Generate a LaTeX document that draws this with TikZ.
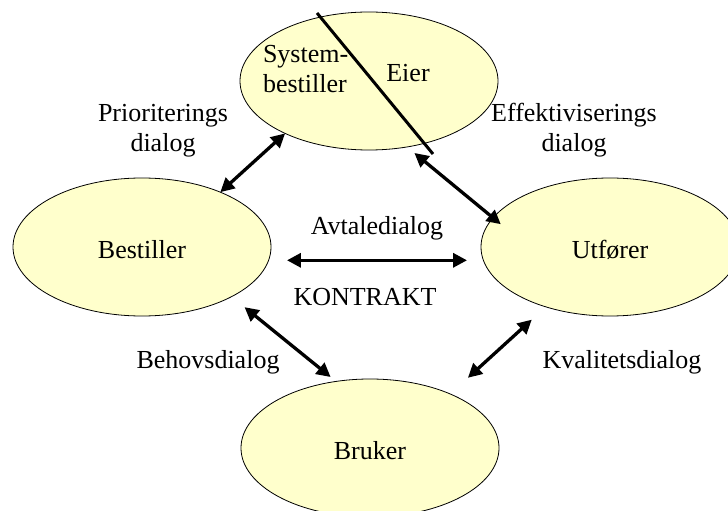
\documentclass[tikz,border=0pt]{standalone}
\usepackage{fontspec}
\setmainfont{Liberation Serif}
\usetikzlibrary{shapes.geometric,arrows.meta}
\definecolor{paleyellow}{HTML}{FFFFCC}
\begin{document}
\begin{tikzpicture}[x=1bp,y=-1bp,
  every node/.append style={font=\fontsize{26bp}{30bp}\selectfont},
  party/.style={ellipse, draw=black, line width=0.8bp, fill=paleyellow,
    minimum width=258bp, minimum height=138bp, inner sep=0pt, outer sep=0pt,
    text height=23bp, text depth=0bp},
  lbl/.style={inner sep=0pt, outer sep=0pt, anchor=base},
  dlg/.style={{Triangle[length=14bp,width=14bp]}-{Triangle[length=14bp,width=14bp]},
    line width=3.3bp}]
\useasboundingbox (0,0) rectangle (728,511);
\clip (0,0) rectangle (728,511);

% the four parties
\node[party] (top)  at (369,81)  {};
\node[party] (best) at (142,247) {Bestiller};
\node[party] (utf)  at (610,247) {Utfører};
\node[party] (bruk) at (370,448) {Bruker};

% split of the upper party
\coordinate (cutA) at (317,13);
\coordinate (cutB) at (433,154);
\draw[line width=3bp] (cutA) -- (cutB);
\node[lbl, anchor=base west, align=left] (sysb) at (263,93) {System-\\bestiller};
\node[lbl] (eier) at (408,82) {Eier};

% dialogues
\draw[dlg] (best.35) -- (top.212);
\draw[dlg, shorten <=9.5bp, shorten >=-10bp] (top.300) -- (utf.166);
\draw[dlg, shorten <=18.4bp, shorten >=16.4bp] (best.-6) -- (utf.186);
\draw[dlg, shorten <=16.7bp, shorten >=7bp] (best.331) -- (bruk.117.5);
\draw[dlg, shorten <=24bp, shorten >=19bp] (bruk.34) -- (utf.223);

% dialogue labels (base anchor sits on the last line)
\node[lbl, align=center] (prio) at (163,152) {Prioriterings\\dialog};
\node[lbl, align=center] (eff)  at (574,152) {Effektiviserings\\dialog};
\node[lbl] (avt)  at (377,235) {Avtaledialog};
\node[lbl] (kont) at (365,305) {KONTRAKT};
\node[lbl] (beh)  at (208,368) {Behovsdialog};
\node[lbl] (kval) at (622,368) {Kvalitetsdialog};
\end{tikzpicture}
\end{document}
